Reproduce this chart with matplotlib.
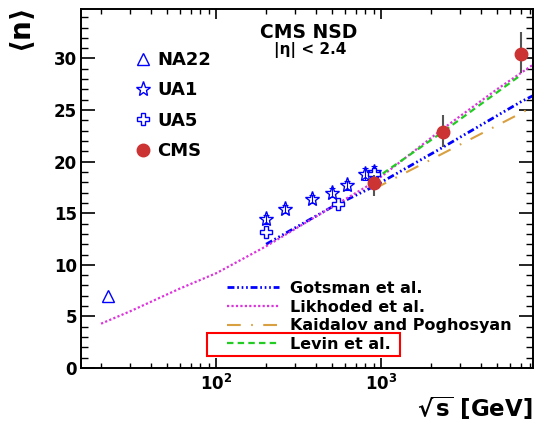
import matplotlib
matplotlib.use('Agg')
import matplotlib.pyplot as plt
from matplotlib.lines import Line2D
from matplotlib.patches import Rectangle
from matplotlib.ticker import MultipleLocator, LogLocator, NullFormatter

plt.rcParams['font.family'] = ['DejaVu Sans']
plt.rcParams['font.weight'] = 'bold'
plt.rcParams['axes.labelweight'] = 'bold'
plt.rcParams['mathtext.fontset'] = 'dejavusans'
plt.rcParams['mathtext.default'] = 'bf'

# data
na22_x = [22]
na22_y = [7.0]

ua1_x = [200, 260, 380, 500, 620, 790, 900]
ua1_y = [14.4, 15.4, 16.4, 17.0, 17.7, 18.8, 19.0]
ua1_err = [0.4, 0.4, 0.4, 0.4, 0.4, 0.6, 0.6]

ua5_x = [200, 546, 900]
ua5_y = [13.2, 15.9, 18.8]

cms_x = [900, 2360, 7000]
cms_y = [17.9, 22.9, 30.4]
cms_lo = [1.2, 1.5, 1.8]
cms_hi = [0.8, 1.65, 2.2]

gots_x = [200, 500, 900, 2360, 7000, 8300]
gots_y = [12.0, 15.6, 17.6, 21.4, 25.8, 26.4]

likh_x = [20, 30, 60, 100, 200, 500, 900, 2360, 5000, 8300]
likh_y = [4.3, 5.5, 7.7, 9.2, 11.8, 15.6, 18.0, 23.2, 27.0, 29.4]

kaid_x = [900, 2360, 7000, 8300]
kaid_y = [17.35, 20.8, 24.7, 25.35]

levin_x = [900, 2360, 7000]
levin_y = [18.25, 22.9, 28.4]

blue = '#0000ff'
gots_ls = (0, (2.5, 1, 0.6, 1, 0.6, 1, 0.6, 1))
likh_ls = (0, (1, 1))
kaid_ls = (0, (6.6, 5, 0.8, 5))
levin_ls = (0, (2.9, 1.9))

fig = plt.figure(figsize=(5.36, 4.25), dpi=100)
ax = fig.add_axes([0.151, 0.134, 0.843, 0.845])

ax.plot(gots_x, gots_y, color=blue, lw=2, ls=gots_ls)
ax.plot(likh_x, likh_y, color='#dd33dd', lw=1.6, ls=likh_ls)
ax.plot(kaid_x, kaid_y, color='#d8a040', lw=1.5, ls=kaid_ls)
ax.plot(levin_x, levin_y, color='#22cc22', lw=1.6, ls=levin_ls)

ax.plot(na22_x, na22_y, ls='none', marker='^', ms=9, mfc='none', mec=blue, mew=1)
ax.errorbar(ua1_x, ua1_y, yerr=ua1_err, fmt='none', ecolor=blue, elinewidth=0.8,
            capsize=2, capthick=0.8)
ax.plot(ua1_x, ua1_y, ls='none', marker='*', ms=11, mfc='none', mec=blue, mew=1)
ax.plot(ua5_x, ua5_y, ls='none', marker='P', ms=9, mfc='white', mec=blue, mew=1)
ax.errorbar(cms_x, cms_y, yerr=[cms_lo, cms_hi], fmt='none', ecolor='#555555',
            elinewidth=1.5, zorder=4)
ax.plot(cms_x, cms_y, ls='none', marker='o', ms=9, color='#cc3333', zorder=5)

ax.set_xscale('log')
ax.set_xlim(15.1, 8260)
ax.set_ylim(0, 34.8)
ax.yaxis.set_major_locator(MultipleLocator(5))
ax.yaxis.set_minor_locator(MultipleLocator(1))
ax.xaxis.set_minor_locator(LogLocator(base=10, subs=range(2, 10)))
ax.xaxis.set_minor_formatter(NullFormatter())

ax.tick_params(which='both', direction='in', top=True, right=True, labelsize=12)
ax.tick_params(axis='y', which='major', length=10, width=1.2, pad=3)
ax.tick_params(axis='y', which='minor', length=5, width=1)
ax.tick_params(axis='x', which='major', length=7, width=1.2, pad=4)
ax.tick_params(axis='x', which='minor', length=3.8, width=1)
for s in ax.spines.values():
    s.set_linewidth(1.4)

ax.set_xlabel(r'$\sqrt{s}$ [GeV]', fontsize=16.5, loc='right', labelpad=0.5)
ax.set_ylabel(r'$\langle$n$\rangle$', fontsize=20, loc='top', labelpad=12)

ax.text(0.504, 0.934, 'CMS NSD', transform=ax.transAxes, ha='center', va='center',
        fontsize=13.5)
ax.text(0.507, 0.886, '|η| < 2.4', transform=ax.transAxes, ha='center', va='center',
        fontsize=11)

h1 = [Line2D([], [], ls='none', marker='^', ms=9, mfc='none', mec=blue, mew=1),
      Line2D([], [], ls='none', marker='*', ms=11, mfc='none', mec=blue, mew=1),
      Line2D([], [], ls='none', marker='P', ms=9, mfc='white', mec=blue, mew=1),
      Line2D([], [], ls='none', marker='o', ms=9, color='#cc3333')]
leg1 = ax.legend(h1, ['NA22', 'UA1', 'UA5', 'CMS'], loc='upper left',
                 bbox_to_anchor=(133.6 / 536, 1 - 51 / 425),
                 bbox_transform=fig.transFigure, frameon=False, fontsize=13,
                 handlelength=1.0, handletextpad=0.3, labelspacing=0.68,
                 borderpad=0, borderaxespad=0)
ax.add_artist(leg1)

h2 = [Line2D([], [], color=blue, lw=2, ls=gots_ls),
      Line2D([], [], color='#dd33dd', lw=1.6, ls=likh_ls),
      Line2D([], [], color='#d8a040', lw=1.5, ls=kaid_ls),
      Line2D([], [], color='#22cc22', lw=1.6, ls=levin_ls)]
ax.legend(h2, ['Gotsman et al.', 'Likhoded et al.', 'Kaidalov and Poghosyan',
               'Levin et al.'], loc='upper left',
          bbox_to_anchor=(227 / 536, 1 - 281 / 425),
          bbox_transform=fig.transFigure, frameon=False, fontsize=11.5,
          handlelength=3.25, handletextpad=0.7, labelspacing=0.23,
          borderpad=0, borderaxespad=0)

fig.patches.append(Rectangle((207 / 536, 1 - 356 / 425), 193 / 536, 23 / 425,
                             transform=fig.transFigure, fill=False,
                             edgecolor='red', lw=1.5))

fig.savefig('out.png', dpi=100)
